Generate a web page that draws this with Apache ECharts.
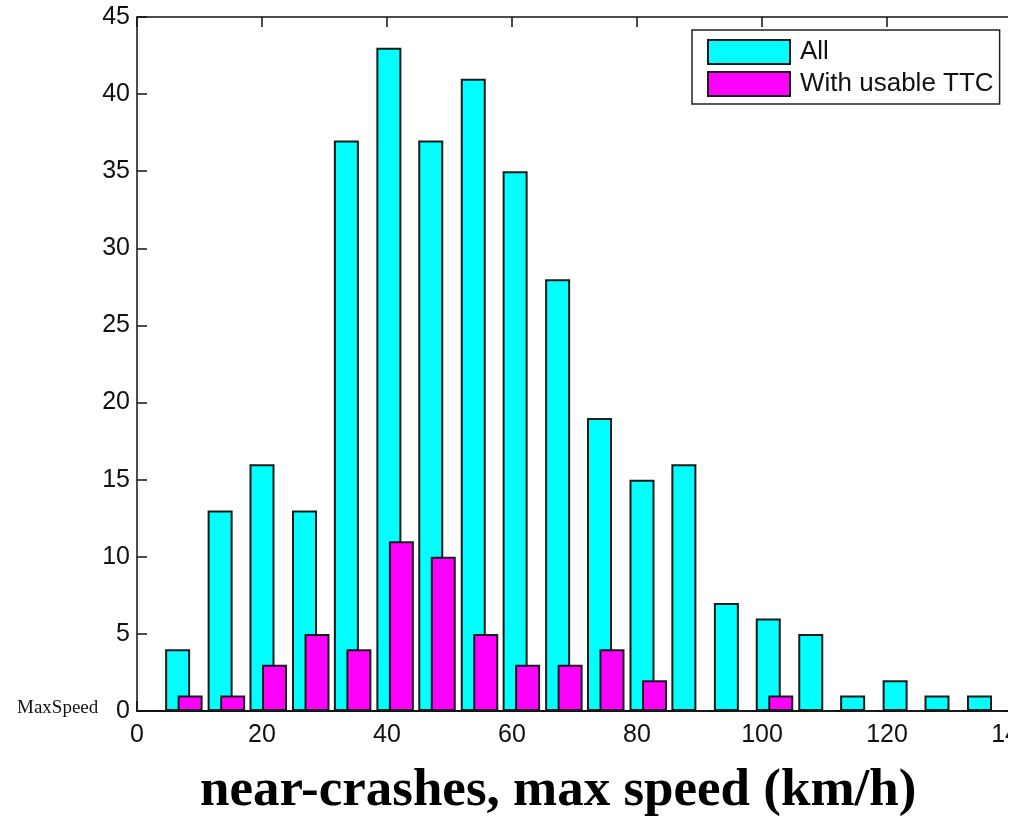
<!DOCTYPE html>
<html>
<head>
<meta charset="utf-8">
<script src="https://cdn.jsdelivr.net/npm/echarts@6/dist/echarts.min.js"></script>
<style>
  html, body { margin: 0; padding: 0; background: #fff; }
  #chart { width: 1020px; height: 816px; }
</style>
</head>
<body>
<div id="chart"></div>
<script>
// histogram bin centres (km/h)
const binCenters = [7.5, 14.3, 21.0, 27.8, 34.5, 41.3, 48.0, 54.8, 61.5, 68.3,
  75.0, 81.8, 88.5, 95.3, 102.0, 108.8, 115.5, 122.3, 129.0, 135.8]
const allCounts = [4, 13, 16, 13, 37, 43, 37, 41, 35, 28, 19, 15, 16, 7, 6, 5, 1, 2, 1, 1]
const ttcCounts = [1, 1, 3, 5, 4, 11, 10, 5, 3, 3, 4, 2, 0, 0, 1, 0, 0, 0, 0, 0]
const seriesNames = ['All', 'With usable TTC']
const colors = ['#00ffff', '#ff00ff']

const chart = echarts.init(document.getElementById('chart'))

const tickFont = {
  fontFamily: 'Liberation Sans, Arial, sans-serif',
  fontSize: 25,
  color: '#111'
}

const option = {
  animation: false,
  color: colors,
  grid: {
    left: 137,
    right: 8,
    top: 17,
    bottom: 105,
    outerBoundsMode: 'none'
  },
  legend: {
    orient: 'vertical',
    left: 692,
    top: 30,
    padding: [9, 6, 7, 15],
    itemGap: 6,
    itemWidth: 82,
    itemHeight: 24,
    icon: 'rect',
    borderColor: '#222',
    borderWidth: 1.5,
    backgroundColor: '#fff',
    textStyle: {
      fontFamily: 'Liberation Sans, Arial, sans-serif',
      fontSize: 26,
      color: '#111',
      padding: [0, 0, 0, 5]
    },
    data: seriesNames
  },
  xAxis: [
    {
      type: 'value',
      min: 0,
      max: 140,
      interval: 20,
      axisLine: { lineStyle: { color: '#111', width: 2 } },
      axisTick: { inside: true, length: 10, lineStyle: { color: '#111', width: 1.5 } },
      axisLabel: Object.assign({ margin: 12 }, tickFont),
      splitLine: { show: false }
    },
    {
      type: 'value',
      position: 'top',
      min: 0,
      max: 140,
      interval: 20,
      axisLine: { lineStyle: { color: '#111', width: 1.5 } },
      axisTick: { inside: true, length: 10, lineStyle: { color: '#111', width: 1.5 } },
      axisLabel: { show: false },
      splitLine: { show: false }
    }
  ],
  yAxis: {
    type: 'value',
    min: 0,
    max: 45,
    interval: 5,
    axisLine: { show: true, lineStyle: { color: '#111', width: 1.5 } },
    axisTick: { show: true, inside: true, length: 10, lineStyle: { color: '#111', width: 1.5 } },
    axisLabel: Object.assign({ margin: 7 }, tickFont),
    splitLine: { show: false }
  },
  graphic: [
    {
      type: 'text',
      left: 17,
      top: 699,
      style: {
        text: 'MaxSpeed',
        font: '19px "Liberation Serif", "Times New Roman", serif',
        fill: '#111'
      }
    },
    {
      type: 'text',
      left: 200,
      top: 765,
      style: {
        text: 'near-crashes, max speed (km/h)',
        font: 'bold 53px "Liberation Serif", "Times New Roman", serif',
        fill: '#000'
      }
    },
    {
      // picture is cropped at the right edge
      type: 'rect',
      right: 0,
      top: 0,
      z: 100,
      shape: { width: 12, height: 760 },
      style: { fill: '#fff' }
    }
  ],
  series: [
    {
      name: seriesNames[0],
      type: 'bar',
      barWidth: 25,
      barGap: '-50%',
      itemStyle: { color: colors[0], borderColor: '#1a1a1a', borderWidth: 2 },
      data: binCenters.map((x, i) => [x, allCounts[i]])
    },
    {
      name: seriesNames[1],
      type: 'bar',
      barWidth: 25,
      barGap: '-50%',
      itemStyle: { color: colors[1], borderColor: '#1a1a1a', borderWidth: 2 },
      data: binCenters.map((x, i) => [x, ttcCounts[i]])
    }
  ]
}

chart.setOption(option)
</script>
</body>
</html>
